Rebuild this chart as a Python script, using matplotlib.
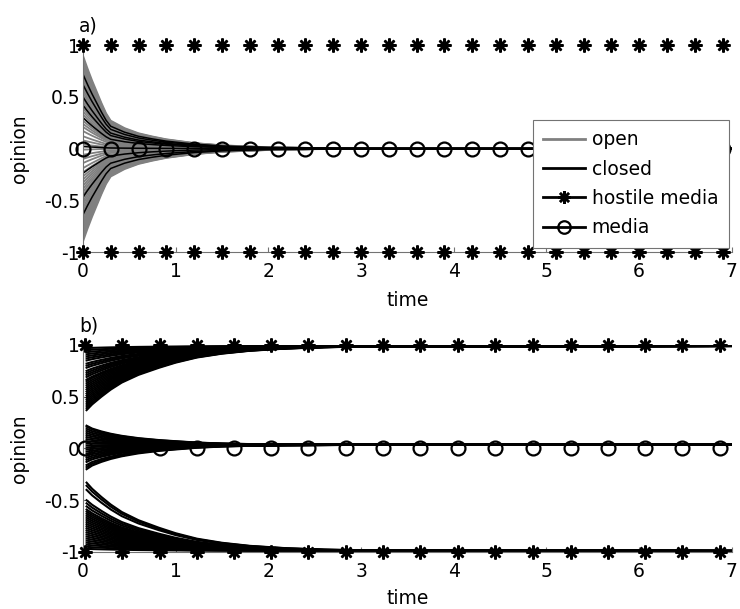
import matplotlib
matplotlib.use('Agg')
import matplotlib.pyplot as plt
import numpy as np
from matplotlib.lines import Line2D

# ---- panel a: everybody drifts to the centre ----
t_a = [0.0, 0.05, 0.1, 0.15, 0.2, 0.25, 0.3, 0.45, 0.6, 0.75, 0.9, 1.2, 1.5, 2.0, 2.5, 3.0, 7.0]
decay_a = [1.0, 0.86, 0.73, 0.61, 0.49, 0.38, 0.30, 0.22, 0.165, 0.13, 0.10, 0.06, 0.035, 0.015, 0.006, 0.002, 0.0]

open_a = [0.90, 0.87, 0.84, 0.81, 0.78, 0.75, 0.72, 0.69, 0.66, 0.63, 0.60, 0.57,
          0.54, 0.51, 0.48, 0.45, 0.42, 0.39, 0.36, 0.33, 0.30, 0.27, 0.24, 0.21,
          0.17, 0.12, 0.08, 0.04, -0.01, -0.06, -0.10, -0.14, -0.19, -0.23, -0.27,
          -0.30, -0.33, -0.36, -0.39, -0.42, -0.45, -0.48, -0.51, -0.54, -0.57,
          -0.60, -0.63, -0.66, -0.69, -0.72, -0.75, -0.78, -0.81, -0.84, -0.87, -0.90]
closed_a = [0.72, 0.62, 0.50, 0.42, 0.30, 0.02, -0.24, -0.47, -0.64]

marks_a = [0.0, 0.3, 0.6, 0.9, 1.2, 1.5, 1.8, 2.1, 2.4, 2.7, 3.0, 3.3, 3.6, 3.9,
           4.2, 4.5, 4.8, 5.1, 5.4, 5.7, 6.0, 6.3, 6.6, 6.9]

# ---- panel b: three camps ----
t_b = [0.04, 0.1, 0.2, 0.3, 0.42, 0.6, 0.82, 1.0, 1.23, 1.5, 1.8, 2.2, 2.6, 3.0, 7.0]
decay_b = [1.0, 0.91, 0.79, 0.68, 0.57, 0.45, 0.34, 0.26, 0.18, 0.12, 0.075, 0.04, 0.02, 0.01, 0.0]
decay_mid = [1.0, 0.85, 0.70, 0.58, 0.47, 0.35, 0.25, 0.19, 0.12, 0.07, 0.04, 0.02, 0.01, 0.0, 0.0]

upper_b = [0.37, 0.39, 0.41, 0.43, 0.45, 0.47, 0.49, 0.51, 0.53, 0.55, 0.57, 0.59,
           0.61, 0.63, 0.65, 0.665, 0.69, 0.71, 0.73, 0.75, 0.78, 0.80, 0.82, 0.85,
           0.87, 0.89, 0.91, 0.93, 0.95, 0.97]
middle_b = [-0.20, -0.18, -0.16, -0.13, -0.11, -0.09, -0.07, -0.05, -0.03, -0.01,
            0.01, 0.03, 0.05, 0.07, 0.09, 0.11, 0.13, 0.15, 0.17, 0.19, 0.21, 0.22]
lower_b = [-0.33, -0.36, -0.40, -0.50, -0.53, -0.56, -0.59, -0.61, -0.63, -0.65,
           -0.67, -0.69, -0.71, -0.73, -0.75, -0.77, -0.79, -0.81, -0.83, -0.85,
           -0.87, -0.89, -0.91, -0.93, -0.95, -0.97]
targets_b = [0.99, 0.035, -0.99]

marks_b = [0.02, 0.42, 0.83, 1.23, 1.63, 2.03, 2.43, 2.84, 3.24, 3.64, 4.05,
           4.45, 4.85, 5.26, 5.66, 6.06, 6.46, 6.87]

yticks = [-1, -0.5, 0, 0.5, 1]
ytick_labels = ['-1', '-0.5', '0', '0.5', '1']

plt.rcParams['font.family'] = ['DejaVu Sans']
plt.rcParams['axes.unicode_minus'] = False

FS = 13.5
AST = (8, 2, 0)
GRAY = '#808080'


def style_axes(ax, tag):
    ax.set_xlim(0, 7)
    ax.set_ylim(-1, 1)
    ax.set_xticks(range(8))
    ax.set_yticks(yticks)
    ax.set_yticklabels(ytick_labels)
    for s in ('top', 'right'):
        ax.spines[s].set_visible(False)
    for s in ('left', 'bottom'):
        ax.spines[s].set_color('0.45')
        ax.spines[s].set_linewidth(0.8)
    ax.tick_params(axis='both', direction='in', length=3.5, width=0.8,
                   color='0.45', labelsize=FS)
    ax.tick_params(axis='x', pad=7)
    ax.tick_params(axis='y', pad=2)
    ax.set_xlabel('time', fontsize=FS)
    ax.set_ylabel('opinion', fontsize=FS)
    ax.yaxis.set_label_coords(-0.083, 0.5)
    ax.text(-0.006, 1.09, tag, transform=ax.transAxes, fontsize=FS,
            ha='left', va='center')


def media_marks(ax, times, level, marker, ms, mew):
    kw = dict(ls='none', color='k', mfc='none', ms=ms, mew=mew, clip_on=False, zorder=5)
    ax.plot(times, [level] * len(times), marker=marker, **kw)


fig = plt.figure(figsize=(7.4, 6.09), dpi=100)
ax_a = fig.add_axes([0.112, 0.586, 0.877, 0.340])
ax_b = fig.add_axes([0.112, 0.0936, 0.877, 0.340])

# panel a
da = np.array(decay_a)
for x0 in open_a:
    ax_a.plot(t_a, x0 * da, color=GRAY, lw=1.3)
for x0 in closed_a:
    ax_a.plot(t_a, x0 * da, color='k', lw=1.1)
media_marks(ax_a, marks_a, 1, AST, 10, 1.8)
media_marks(ax_a, marks_a, -1, AST, 10, 1.8)
media_marks(ax_a, marks_a, 0, 'o', 10, 1.6)
style_axes(ax_a, 'a)')
ax_a.xaxis.set_label_coords(0.5, -0.19)

handles = [
    Line2D([], [], color=GRAY, lw=2, label='open'),
    Line2D([], [], color='k', lw=2, label='closed'),
    Line2D([], [], color='k', lw=2, marker=AST, ms=9, mew=1.8, label='hostile media'),
    Line2D([], [], color='k', lw=2, marker='o', mfc='none', ms=9, mew=1.6, label='media'),
]
leg = ax_a.legend(handles=handles, loc='upper right', bbox_to_anchor=(0.995, 0.638),
                  borderaxespad=0, borderpad=0.55, fontsize=FS, handlelength=2.2,
                  labelspacing=0.55, handletextpad=0.37, fancybox=False,
                  framealpha=1, edgecolor='0.45')
leg.get_frame().set_linewidth(0.8)
leg.set_zorder(10)

# panel b
for vals, tgt, dec in ((upper_b, targets_b[0], decay_b),
                       (middle_b, targets_b[1], decay_mid),
                       (lower_b, targets_b[2], decay_b)):
    d = np.array(dec)
    for x0 in vals:
        ax_b.plot(t_b, tgt + (x0 - tgt) * d, color='k', lw=1.5)
media_marks(ax_b, marks_b, 1, AST, 10, 1.8)
media_marks(ax_b, marks_b, -1, AST, 10, 1.8)
media_marks(ax_b, marks_b, 0, 'o', 10, 1.6)
style_axes(ax_b, 'b)')
ax_b.xaxis.set_label_coords(0.5, -0.18)

fig.savefig('out.png', dpi=100)
